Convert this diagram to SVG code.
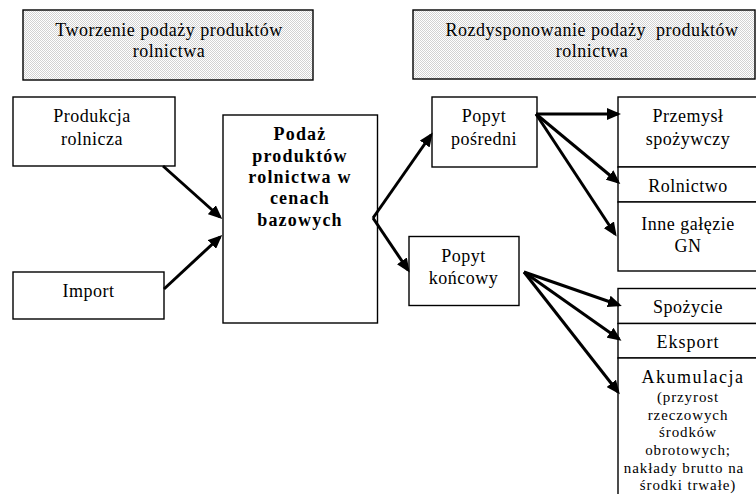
<svg xmlns="http://www.w3.org/2000/svg" width="756" height="494" viewBox="0 0 756 494">
<style>
.box{fill:#fff;stroke:#000;stroke-width:1.4}
.hdr{fill:url(#dots);stroke:#000;stroke-width:1.4}
.t{font-family:"Liberation Serif","Times New Roman",serif;font-size:18px;text-anchor:middle;fill:#000;letter-spacing:0.5px}
.b{font-weight:bold;letter-spacing:1.2px}
.s{font-size:15px;letter-spacing:0.9px}
.c{stroke:#000;stroke-width:3;fill:none;marker-end:url(#ah)}
</style>
<defs>
<pattern id="dots" width="2" height="2" patternUnits="userSpaceOnUse"><rect width="2" height="2" fill="#fff"/><rect width="1" height="1" fill="#d2d2d2"/><rect x="1" y="1" width="1" height="1" fill="#d2d2d2"/></pattern>
<marker id="ah" markerWidth="14" markerHeight="12" refX="11" refY="6" orient="auto" markerUnits="userSpaceOnUse"><path d="M0,0 L14,6 L0,12 z" fill="#000"/></marker>
</defs>
<rect width="756" height="494" fill="#fff"/>
<g id="hdr1"><rect class="hdr" x="23" y="10" width="290" height="70"/><text class="t" x="169" y="36">Tworzenie podaży produktów</text><text class="t" x="169" y="57">rolnictwa</text></g>
<g id="hdr2"><rect class="hdr" x="413" y="10" width="342" height="69"/><text class="t" x="592" y="36" xml:space="preserve">Rozdysponowanie podaży  produktów</text><text class="t" x="592" y="57">rolnictwa</text></g>
<g id="produkcja"><rect class="box" x="13" y="97" width="162" height="69"/><text class="t" x="92" y="122">Produkcja</text><text class="t" x="92" y="145">rolnicza</text></g>
<g id="import"><rect class="box" x="13" y="272" width="151" height="47"/><text class="t" x="88.5" y="297">Import</text></g>
<g id="podaz"><rect class="box" x="223" y="115" width="154.5" height="208"/><text class="t b" x="300" y="140">Podaż</text><text class="t b" x="300" y="162">produktów</text><text class="t b" x="300" y="183">rolnictwa w</text><text class="t b" x="300" y="204">cenach</text><text class="t b" x="300" y="226">bazowych</text></g>
<g id="posredni"><rect class="box" x="432" y="97" width="105" height="70"/><text class="t" x="484" y="122">Popyt</text><text class="t" x="484" y="145">pośredni</text></g>
<g id="koncowy"><rect class="box" x="409" y="236.5" width="110" height="69"/><text class="t" x="463.5" y="262">Popyt</text><text class="t" x="463.5" y="284">końcowy</text></g>
<g id="przemysl"><rect class="box" x="618" y="97" width="150" height="70"/><text class="t" x="688" y="122">Przemysł</text><text class="t" x="688" y="145">spożywczy</text></g>
<g id="rolnictwo"><rect class="box" x="618" y="167" width="150" height="35"/><text class="t" x="688" y="192">Rolnictwo</text></g>
<g id="inne"><rect class="box" x="618" y="202" width="150" height="69"/><text class="t" x="688" y="230">Inne gałęzie</text><text class="t" x="688" y="252">GN</text></g>
<g id="spozycie"><rect class="box" x="618" y="288.5" width="150" height="35"/><text class="t" x="688" y="313">Spożycie</text></g>
<g id="eksport"><rect class="box" x="618" y="323.5" width="150" height="34.5"/><text class="t" x="688" y="348" style="letter-spacing:1px">Eksport</text></g>
<g id="akumulacja"><rect class="box" x="618" y="358" width="150" height="150"/><text class="t" x="693" y="383" style="letter-spacing:1.5px">Akumulacja</text><text class="t s" x="688" y="402">(przyrost</text><text class="t s" x="688" y="420">rzeczowych</text><text class="t s" x="688" y="437">środków</text><text class="t s" x="688" y="455">obrotowych;</text><text class="t s" x="684" y="473">nakłady brutto na</text><text class="t s" x="688" y="490">środki trwałe)</text></g>
<g id="connectors">
<line class="c" x1="163" y1="166" x2="220" y2="217"/>
<line class="c" x1="164" y1="289" x2="220" y2="237"/>
<path d="M373,218 L431,135" class="c"/>
<path d="M373,218 L408,270" class="c"/>
<line class="c" x1="536" y1="114" x2="618" y2="114"/>
<line class="c" x1="536" y1="114" x2="618" y2="182"/>
<line class="c" x1="536" y1="114" x2="615" y2="234"/>
<line class="c" x1="524" y1="272" x2="619" y2="305"/>
<line class="c" x1="524" y1="272" x2="619" y2="339"/>
<line class="c" x1="524" y1="272" x2="618" y2="392"/>
</g>
</svg>
